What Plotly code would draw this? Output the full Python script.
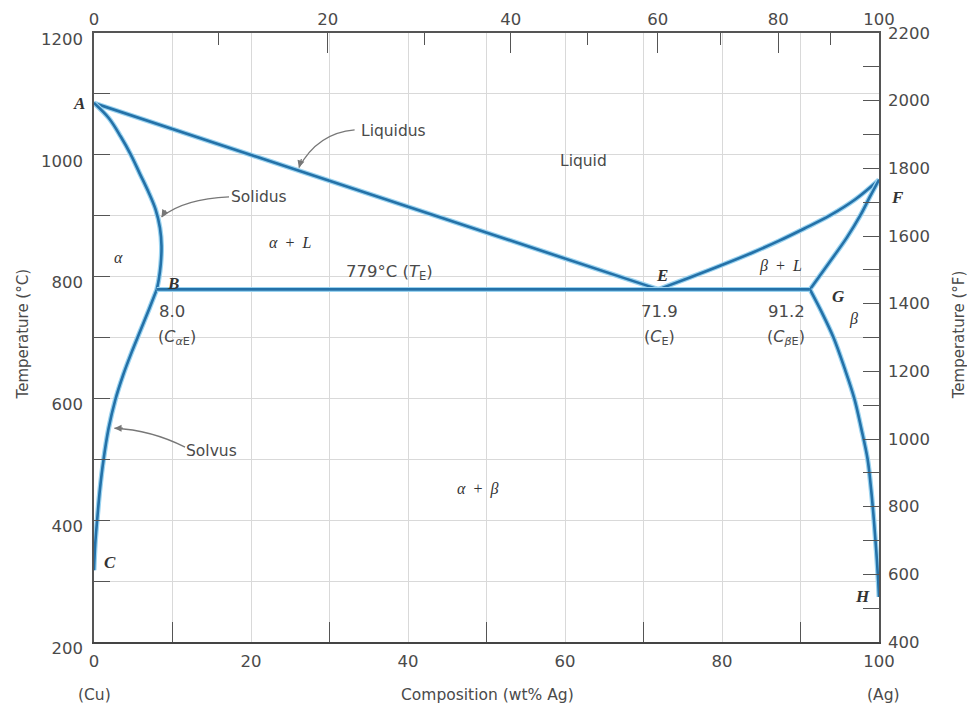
import plotly.graph_objects as go

# ---------------- data (wt% Ag, temperature in degC) ----------------
liquidus_left_x = [0, 71.9]
liquidus_left_y = [1085, 779]
liquidus_right_x = [71.9, 76, 80, 84, 87.3, 90.5, 93.7, 97.0, 100]
liquidus_right_y = [779, 799, 819, 840, 859, 879, 900, 927, 959]
solidus_alpha_x = [0, 1.9, 3.4, 4.7, 5.8, 6.9, 7.85, 8.4, 8.6, 8.5, 8.25, 8.0]
solidus_alpha_y = [1085, 1060, 1030, 1000, 970, 940, 910, 880, 850, 820, 795, 779]
solidus_beta_x = [91.2, 93.6, 95.9, 97.6, 98.8, 100]
solidus_beta_y = [779, 822, 864, 900, 930, 959]
solvus_alpha_x = [0, 0.15, 0.4, 0.75, 1.2, 1.85, 2.7, 3.7, 4.8, 5.9, 7.0, 8.0]
solvus_alpha_y = [318, 360, 400, 450, 498, 550, 597, 638, 676, 711, 746, 779]
solvus_beta_x = [91.2, 92.76, 94.2, 95.6, 96.85, 97.75, 98.55, 99.0, 99.35, 99.65, 99.9, 100]
solvus_beta_y = [779, 740, 700, 650, 600, 550, 500, 450, 400, 350, 300, 274]
eutectic_x = [8.0, 91.2]
eutectic_y = [779, 779]

# axis ticks
wt_ticks = [0, 20, 40, 60, 80, 100]
wt_minor = [10, 30, 50, 70, 90]
at_ticks = [0, 20, 40, 60, 80, 100]
at_minor = [10, 30, 50, 70, 90]
c_ticks = [200, 400, 600, 800, 1000, 1200]
f_ticks = [400, 600, 800, 1000, 1200, 1400, 1600, 1800, 2000, 2200]
M_AG, M_CU = 107.87, 63.55


def at_to_wt(a):
    return 100 * a * M_AG / (a * M_AG + (100 - a) * M_CU)


DARK = '#2471a8'
HALO = '#9ad3f0'
AXC = '#555555'
TXT = '#4a4a4a'
SANS = 'DejaVu Sans, Verdana, sans-serif'
SERIF = 'Liberation Serif, Times New Roman, serif'
NB = '\u00a0'

fig = go.Figure()


def curve(x, y, smooth):
    shape = 'spline' if smooth else 'linear'
    fig.add_trace(go.Scatter(x=x, y=y, mode='lines', hoverinfo='skip',
                             line=dict(color=HALO, width=5, shape=shape, smoothing=1.0),
                             showlegend=False))
    fig.add_trace(go.Scatter(x=x, y=y, mode='lines', hoverinfo='skip',
                             line=dict(color=DARK, width=2.6, shape=shape, smoothing=1.0),
                             showlegend=False))


curve(liquidus_left_x, liquidus_left_y, False)
curve(liquidus_right_x, liquidus_right_y, True)
curve(solidus_alpha_x, solidus_alpha_y, True)
curve(solidus_beta_x, solidus_beta_y, True)
curve(solvus_alpha_x, solvus_alpha_y, True)
curve(solvus_beta_x, solvus_beta_y, True)
curve(eutectic_x, eutectic_y, False)

# invisible trace to activate secondary axes
fig.add_trace(go.Scatter(x=[0, 100], y=[400, 2200], xaxis='x2', yaxis='y2', mode='markers',
                         marker=dict(opacity=0), hoverinfo='skip', showlegend=False))

# curved pointer arrows (gray)
arrow_paths = [
    "M 33.2,1041 Q 28.5,1036 26.1,979",
    "M 17.2,931 Q 11.5,928 8.6,898",
    "M 11.6,520 Q 7.3,548 2.6,551",
]
for p in arrow_paths:
    fig.add_shape(type='path', path=p, xref='x', yref='y',
                  line=dict(color='#777777', width=1.3))

ann = []
# arrowheads
for (hx, hy, ax, ay) in [(26.1, 979, 3, -10), (8.6, 898, 5, -8), (2.6, 551, 10, 0)]:
    ann.append(dict(x=hx, y=hy, xref='x', yref='y', text='', showarrow=True,
                    ax=ax, ay=ay, arrowhead=2, arrowsize=1.1, arrowwidth=1.3,
                    arrowcolor='#777777'))


def sans(x, y, t, size=16):
    ann.append(dict(x=x, y=y, xref='x', yref='y', text=t, showarrow=False,
                    font=dict(family=SANS, size=size, color=TXT)))


def serif(x, y, t, size=17, xref='x'):
    ann.append(dict(x=x, y=y, xref=xref, yref='y', text=t, showarrow=False,
                    xanchor='center',
                    font=dict(family=SERIF, size=size, color='#333333')))


sans(38.1, 1039, 'Liquidus', 15.5)
sans(62.3, 990, 'Liquid', 15.5)
sans(21.0, 931, 'Solidus', 15.5)
sans(15.0, 513, 'Solvus', 15.5)
sans(37.7, 807, '779°C (<i>T</i><sub>E</sub>)', 16.5)
sans(9.9, 743, '8.0', 16.5)
sans(10.6, 700, '(<i>C</i><sub><i>α</i>E</sub>)', 16)
sans(72.0, 743, '71.9', 16.5)
sans(72.0, 700, '(<i>C</i><sub>E</sub>)', 16)
sans(88.2, 743, '91.2', 16.5)
sans(88.2, 700, '(<i>C</i><sub><i>β</i>E</sub>)', 16)

serif(-0.019, 1084, '<b><i>A</i></b>', xref='paper')
serif(1.023, 930, '<b><i>F</i></b>', xref='paper')
serif(10.06, 788, '<b><i>B</i></b>')
serif(2.1, 330, '<b><i>C</i></b>')
serif(72.4, 802, '<b><i>E</i></b>')
serif(94.8, 767, '<b><i>G</i></b>')
serif(97.9, 275, '<b><i>H</i></b>')
serif(3.06, 831, '<i>α</i>', 16)
serif(25.0, 856, '<i>α</i>' + NB + ' +' + NB + ' <i>L</i>', 16)
serif(87.4, 818, '<i>β</i>' + NB + ' +' + NB + ' <i>L</i>', 16)
serif(96.7, 731, '<i>β</i>', 16)
serif(48.8, 451, '<i>α</i>' + NB + ' +' + NB + ' <i>β</i>', 16)

# axis titles and end labels
ann.append(dict(x=-0.0905, y=0.505, xref='paper', yref='paper', text='Temperature (°C)',
                xanchor='center', yanchor='middle',
                textangle=-90, showarrow=False, font=dict(family=SANS, size=15, color=TXT)))
ann.append(dict(x=1.103, y=0.505, xref='paper', yref='paper', text='Temperature (°F)',
                xanchor='center', yanchor='middle',
                textangle=-90, showarrow=False, font=dict(family=SANS, size=15, color=TXT)))
for (px, t) in [(0.501, 'Composition (wt% Ag)'), (0.0, '(Cu)'), (1.006, '(Ag)')]:
    ann.append(dict(x=px, y=-0.087, xref='paper', yref='paper', text=t,
                    xanchor='center', yanchor='middle',
                    showarrow=False, font=dict(family=SANS, size=15.5, color=TXT)))

tickfont = dict(family=SANS, size=16.5, color=TXT)
grid = '#d9d9d9'

fig.update_layout(
    width=959, height=697,
    margin=dict(l=86, r=88, t=25, b=63, autoexpand=False),
    paper_bgcolor='white', plot_bgcolor='white',
    showlegend=False,
    annotations=ann,
    xaxis=dict(range=[0, 100], tickvals=wt_ticks, ticktext=[str(v) for v in wt_ticks],
               ticks='', showgrid=True, gridcolor=grid, gridwidth=1, automargin=False,
               showline=True, linecolor='#444444', linewidth=2, zeroline=False,
               tickfont=tickfont, ticklabelstandoff=3,
               minor=dict(tickvals=wt_minor, ticks='inside', ticklen=20, tickcolor=AXC,
                          tickwidth=1.3, showgrid=True, gridcolor=grid, gridwidth=1)),
    xaxis2=dict(range=[0, 100], overlaying='x', side='top', anchor='y', automargin=False,
                tickvals=[at_to_wt(a) for a in at_ticks], ticktext=[str(a) for a in at_ticks],
                ticks='inside', ticklen=20, tickcolor=AXC, tickwidth=1.3,
                showgrid=False, zeroline=False, showline=True, linecolor=AXC, linewidth=1.5,
                tickfont=tickfont,
                minor=dict(tickvals=[at_to_wt(a) for a in at_minor], ticks='inside',
                           ticklen=12, tickcolor=AXC, tickwidth=1.3, showgrid=False)),
    yaxis=dict(range=[200, 1200], tickvals=c_ticks, ticks='inside', ticklen=16,
               tickcolor=AXC, tickwidth=1.3, showgrid=True, gridcolor=grid, gridwidth=1,
               showline=True, linecolor=AXC, linewidth=1.5, zeroline=False, automargin=False,
               tickfont=tickfont, ticklabelstandoff=6, ticklabelshift=6,
               minor=dict(dtick=100, tick0=200, ticks='inside', ticklen=16, tickcolor=AXC,
                          tickwidth=1.3, showgrid=True, gridcolor=grid, gridwidth=1)),
    yaxis2=dict(range=[400, 2200], overlaying='y', side='right', anchor='x', automargin=False,
                tickvals=f_ticks, ticks='inside', ticklen=16, tickcolor=AXC, tickwidth=1.3,
                showgrid=False, zeroline=False, showline=True, linecolor=AXC, linewidth=1.5,
                tickfont=tickfont, ticklabelstandoff=4,
                minor=dict(dtick=100, tick0=400, ticks='inside', ticklen=16, tickcolor=AXC,
                           tickwidth=1.3, showgrid=False)),
)

fig.write_html("out.html")
